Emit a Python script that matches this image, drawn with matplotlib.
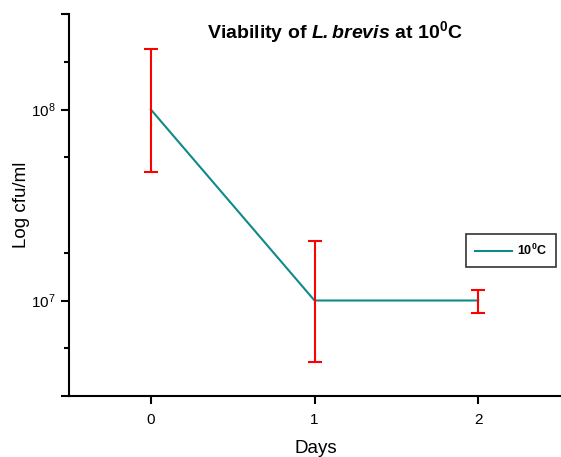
import numpy as np
import matplotlib.pyplot as plt
from matplotlib.ticker import FixedLocator, NullFormatter

plt.rcParams['font.family'] = ['Liberation Sans', 'DejaVu Sans']
plt.rcParams['mathtext.fontset'] = 'custom'
plt.rcParams['mathtext.rm'] = 'Liberation Sans'
plt.rcParams['mathtext.it'] = 'Liberation Sans:italic'
plt.rcParams['mathtext.bf'] = 'Liberation Sans:bold'
plt.rcParams['mathtext.bfit'] = 'Liberation Sans:italic:bold'

days = [0, 1, 2]
cfu = [1e8, 1e7, 1e7]
err_low = [5.3e7, 5.25e6, 1.45e6]
err_high = [1.08e8, 1.05e7, 1.3e6]

fig = plt.figure(figsize=(5.61, 4.57), dpi=100)
ax = fig.add_axes([69/561, 1 - 396/457, (560 - 69)/561, (396 - 14)/457])

ax.plot(days, cfu, color='#0f8a8a', linewidth=1.5, label=r'10$^\mathbf{0}$C')
ax.errorbar(days, cfu, yerr=[err_low, err_high], fmt='none', ecolor='#ff0000',
            elinewidth=1.5, capsize=5, capthick=1.5)

ax.set_yscale('log')
ax.set_ylim(10**6.5, 10**8.5)
ax.set_xlim(-0.5, 2.5)

ax.set_xticks(days)
ax.yaxis.set_major_locator(FixedLocator([10**6.5, 1e7, 1e8, 10**8.5]))
ax.set_yticklabels(['', r'$10^7$', r'$10^8$', ''])
ax.yaxis.set_minor_locator(FixedLocator([10**6.75, 10**7.25, 10**7.75, 10**8.25]))
ax.yaxis.set_minor_formatter(NullFormatter())

ax.spines['top'].set_visible(False)
ax.spines['right'].set_visible(False)
ax.spines['left'].set_linewidth(1.5)
ax.spines['bottom'].set_linewidth(1.5)
ax.tick_params(axis='both', which='major', direction='out', length=6, width=1.5, labelsize=11)
ax.tick_params(axis='x', which='major', pad=6)
ax.tick_params(axis='y', which='minor', direction='out', length=3.5, width=1.5)

ax.set_xlabel('Days', fontsize=13.5)
ax.set_ylabel('Log cfu/ml', fontsize=13.5)
ax.xaxis.set_label_coords(0.503, -0.115)
ax.yaxis.set_label_coords(-0.08, 0.5)

fig.text(335/561, 1 - 32/457, r'Viability of $\mathbfit{L.brevis}$ at 10$^\mathbf{0}$C',
         ha='center', va='center', fontsize=14, fontweight='bold')

leg = ax.legend(loc='upper left', bbox_to_anchor=((466 - 69)/491, 1 - (234 - 14)/382),
                frameon=True, fancybox=False, edgecolor='black',
                prop={'size': 9, 'weight': 'bold'},
                handlelength=3.0, handletextpad=0.4, borderpad=0.7, borderaxespad=0)
leg.get_frame().set_linewidth(1.2)

fig.savefig('out.png', dpi=100)
